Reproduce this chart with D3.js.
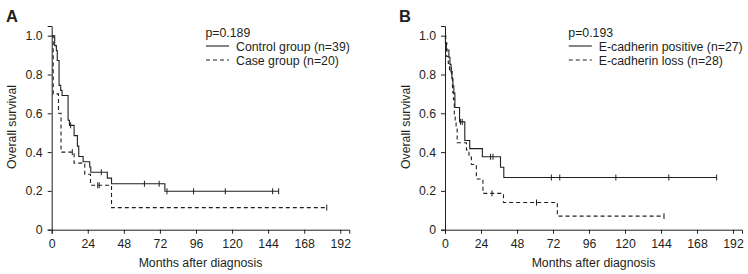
<!DOCTYPE html>
<html>
<head>
<meta charset="utf-8">
<script src="https://cdn.jsdelivr.net/npm/d3@7"></script>
<style>
  body { margin: 0; background: #fff; }
  text { font-family: "Liberation Sans", Arial, sans-serif; fill: #231f20; }
</style>
</head>
<body>
<svg width="748" height="274"></svg>
<script>
var svg = d3.select('svg');

// tick values
var xTicks = [0, 24, 48, 72, 96, 120, 144, 168, 192];
var yTicks = [0, 0.2, 0.4, 0.6, 0.8, 1.0];

// panel A: control vs case
var groupsA = ['Control group (n=39)', 'Case group (n=20)'];
var pA = 'p=0.189';
var controlTimes = [2.0, 3.1, 3.7, 4.9, 6.0, 6.9, 10.9, 11.8, 14.9, 17.1, 18.0, 20.9, 25.3, 26.0, 37.0, 39.8, 75.3];
var controlSurv  = [0.949, 0.923, 0.872, 0.744, 0.718, 0.692, 0.564, 0.538, 0.485, 0.431, 0.377, 0.350, 0.323, 0.296, 0.266, 0.237, 0.198];
var controlCensor = [12.6, 33, 61.7, 71.5, 76.7, 94.4, 115.5, 147, 151];
var caseTimes = [1.0, 4.5, 6.2, 14.9, 22.0, 25.8, 39.8];
var caseSurv  = [0.70, 0.60, 0.40, 0.343, 0.286, 0.229, 0.114];
var caseCensor = [13.7, 30.6, 31.6, 183];

// panel B: E-cadherin
var groupsB = ['E-cadherin positive (n=27)', 'E-cadherin loss (n=28)'];
var pB = 'p=0.193';
var posTimes = [0.3, 0.9, 2.6, 3.3, 4.0, 4.6, 5.3, 5.9, 6.6, 9.7, 13.2, 16.5, 24.9, 37.0, 39.2];
var posSurv  = [0.963, 0.926, 0.889, 0.852, 0.815, 0.778, 0.741, 0.704, 0.630, 0.556, 0.46, 0.418, 0.376, 0.322, 0.269];
var posCensor = [10.4, 11.5, 30.4, 32.0, 70.9, 76.5, 113.9, 149.2, 181.1];
var lossTimes = [0.5, 1.2, 2.2, 3.0, 4.6, 5.0, 5.6, 6.2, 6.8, 7.4, 8.1, 14.3, 16.0, 17.6, 20.9, 25.3, 39.0, 74.9];
var lossSurv  = [0.964, 0.893, 0.857, 0.821, 0.784, 0.709, 0.672, 0.597, 0.560, 0.522, 0.448, 0.411, 0.374, 0.336, 0.261, 0.187, 0.140, 0.070];
var lossCensor = [4.2, 31.3, 61.0, 146];

var y = d3.scaleLinear().domain([0, 1.05]).range([229.7, 26]);

var panels = [
	{ letter: 'A', p: pA, names: groupsA, left: 51.7, right: 349.3, letterX: 6, legendX: 205.5, ylabX: 12,
	  series: [[controlTimes, controlSurv, controlCensor], [caseTimes, caseSurv, caseCensor]] },
	{ letter: 'B', p: pB, names: groupsB, left: 445, right: 742, letterX: 399, legendX: 568.3, ylabX: 406,
	  series: [[posTimes, posSurv, posCensor], [lossTimes, lossSurv, lossCensor]] }
];

function survAt(times, surv, t) {
	var s = 1;
	times.forEach(function (tt, i) { if (tt <= t) s = surv[i]; });
	return s;
}

var ink = '#231f20';

panels.forEach(function (pn) {
	var x = d3.scaleLinear().domain([0, 198]).range([pn.left, pn.right]);
	var g = svg.append('g');

	var xAxis = d3.axisBottom(x).tickValues(xTicks).tickSize(4).tickSizeOuter(4).tickPadding(6);
	var yAxis = d3.axisLeft(y).tickValues(yTicks).tickSize(4).tickSizeOuter(4).tickPadding(5)
		.tickFormat(function (d) { return d === 0 ? '0' : d3.format('.1f')(d); });

	var gx = g.append('g').attr('transform', 'translate(0,' + y(0) + ')').call(xAxis);
	var gy = g.append('g').attr('transform', 'translate(' + pn.left + ',0)').call(yAxis);
	[gx, gy].forEach(function (a) {
		a.selectAll('path, line').attr('stroke', ink).attr('stroke-width', 1);
		a.selectAll('text').attr('font-size', '12.3px').attr('fill', ink)
			.style('font-family', '"Liberation Sans", Arial, sans-serif');
	});

	// curves
	var line = d3.line().x(function (d) { return x(d[0]); }).y(function (d) { return y(d[1]); })
		.curve(d3.curveStepAfter);

	pn.series.forEach(function (sr, k) {
		var times = sr[0], surv = sr[1], cens = sr[2];
		var pts = [[0, 1]];
		times.forEach(function (t, i) { pts.push([t, surv[i]]); });
		var tEnd = Math.max(d3.max(times), d3.max(cens));
		pts.push([tEnd, survAt(times, surv, tEnd)]);
		g.append('path')
			.attr('d', line(pts))
			.attr('fill', 'none')
			.attr('stroke', ink)
			.attr('stroke-width', 1.1)
			.attr('stroke-dasharray', k === 1 ? '4,3' : null);

		g.selectAll('.cens' + k)
			.data(cens)
			.enter()
			.append('line')
			.attr('x1', function (d) { return x(d); })
			.attr('x2', function (d) { return x(d); })
			.attr('y1', function (d) { return y(survAt(times, surv, d)) - 3; })
			.attr('y2', function (d) { return y(survAt(times, surv, d)) + 3; })
			.attr('stroke', ink)
			.attr('stroke-width', 1);
	});

	// labels
	g.append('text')
		.attr('x', pn.letterX).attr('y', 21.7)
		.attr('font-size', '16.5px').attr('font-weight', 'bold')
		.text(pn.letter);

	g.append('text')
		.attr('transform', 'translate(' + (pn.ylabX + 4) + ',127) rotate(-90)')
		.attr('text-anchor', 'middle')
		.attr('font-size', '12.3px')
		.text('Overall survival');

	g.append('text')
		.attr('x', (pn.left + pn.right) / 2).attr('y', 267)
		.attr('text-anchor', 'middle')
		.attr('font-size', '12.3px')
		.text('Months after diagnosis');

	// legend
	g.append('text')
		.attr('x', pn.legendX).attr('y', 37)
		.attr('font-size', '12.3px')
		.text(pn.p);

	pn.names.forEach(function (nm, k) {
		var ly = 50.5 + k * 14;
		g.append('line')
			.attr('x1', pn.legendX + 0.5).attr('x2', pn.legendX + 23.5)
			.attr('y1', ly - 4.5).attr('y2', ly - 4.5)
			.attr('stroke', ink).attr('stroke-width', 1.1)
			.attr('stroke-dasharray', k === 1 ? '4,3' : null);
		g.append('text')
			.attr('x', pn.legendX + 30.5).attr('y', ly)
			.attr('font-size', '12.3px')
			.text(nm);
	});
});
</script>
</body>
</html>
